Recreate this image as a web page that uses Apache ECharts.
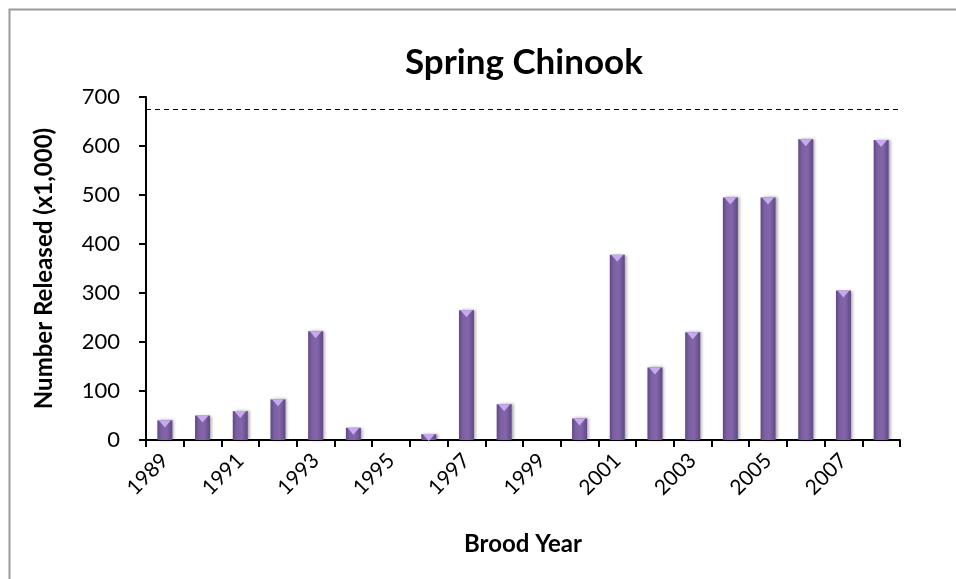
<!DOCTYPE html>
<html lang="en" style="height: 100%">
<head>
  <meta charset="utf-8">
  <script src="https://cdn.jsdelivr.net/npm/echarts@6/dist/echarts.min.js"></script>
</head>
<body style="height: 100%; margin: 0; background: #fff">
  <div id="container" style="width: 956px; height: 579px"></div>

  <script type="text/javascript">
    // brood years and releases (x1,000)
    var years = ['1989', '1990', '1991', '1992', '1993', '1994', '1995', '1996', '1997', '1998',
                 '1999', '2000', '2001', '2002', '2003', '2004', '2005', '2006', '2007', '2008'];
    var released = [40, 50, 59, 83, 222, 25, 0, 12, 265, 73,
                    0, 44, 378, 148, 220, 495, 495, 614, 305, 612];
    var goal = 676;
    var yTicks = [0, 100, 200, 300, 400, 500, 600, 700];

    var dom = document.getElementById('container');
    var myChart = echarts.init(dom, null, { renderer: 'canvas' });
    var font = 'Lato, "Liberation Sans", sans-serif';

    var option = {
      animation: false,
      backgroundColor: '#fff',
      textStyle: { fontFamily: font },
      graphic: [
        {
          type: 'rect',
          shape: { x: 9.5, y: 9.5, width: 1000, height: 1000 },
          style: { fill: 'none', stroke: '#9a9a9a', lineWidth: 2 }
        },
        {
          // title centred over the plot area
          type: 'text',
          left: 523 - 118,
          top: 45,
          style: {
            text: 'Spring Chinook',
            font: 'bold 35px ' + font,
            fill: '#000'
          }
        }
      ],
      grid: { left: 146, right: 56, top: 97, bottom: 139 },
      xAxis: {
        type: 'category',
        data: years,
        name: 'Brood Year',
        nameLocation: 'middle',
        nameGap: 92,
        nameTextStyle: { fontFamily: font, fontSize: 24, fontWeight: 'bold', color: '#000' },
        axisLine: { lineStyle: { color: '#000', width: 2 } },
        axisTick: { show: true, interval: 0, length: 7, lineStyle: { color: '#000', width: 2 } },
        axisLabel: { interval: 1, rotate: 45, margin: 17, fontSize: 21, color: '#000', fontFamily: font },
        splitLine: { show: false }
      },
      yAxis: {
        type: 'value',
        min: yTicks[0],
        max: yTicks[yTicks.length - 1],
        interval: 100,
        name: 'Number Released (x1,000)',
        nameLocation: 'middle',
        nameGap: 90,
        nameTextStyle: { fontFamily: font, fontSize: 24, fontWeight: 'bold', color: '#000' },
        axisLine: { show: true, lineStyle: { color: '#000', width: 2 } },
        axisTick: { show: true, length: 7, lineStyle: { color: '#000', width: 2 } },
        axisLabel: { margin: 26, fontSize: 22, color: '#000', fontFamily: font },
        splitLine: { show: false }
      },
      series: [
        {
          type: 'bar',
          data: released,
          barWidth: 15,
          itemStyle: {
            color: new echarts.graphic.LinearGradient(0, 0, 1, 0, [
              { offset: 0, color: '#5f4886' },
              { offset: 0.25, color: '#7c60a2' },
              { offset: 0.6, color: '#8366aa' },
              { offset: 1, color: '#5f4886' }
            ]),
            shadowColor: 'rgba(0,0,0,0.35)',
            shadowBlur: 3,
            shadowOffsetX: 2,
            shadowOffsetY: 0
          },
          markLine: {
            silent: true,
            symbol: 'none',
            label: { show: false },
            lineStyle: { color: '#000', type: [5, 4], width: 1.2 },
            data: [{ yAxis: goal }]
          },
          z: 2
        },
        {
          type: 'pictorialBar',
          data: released.map(function (v) { return v > 0 ? v : '-'; }),
          symbol: 'path://M0,0 L10,0 L5,6 Z',
          symbolSize: [12, 7],
          symbolPosition: 'end',
          itemStyle: { color: '#c7a9ef' },
          z: 3
        }
      ]
    };

    myChart.setOption(option);
    window.addEventListener('resize', myChart.resize);
  </script>
</body>
</html>
